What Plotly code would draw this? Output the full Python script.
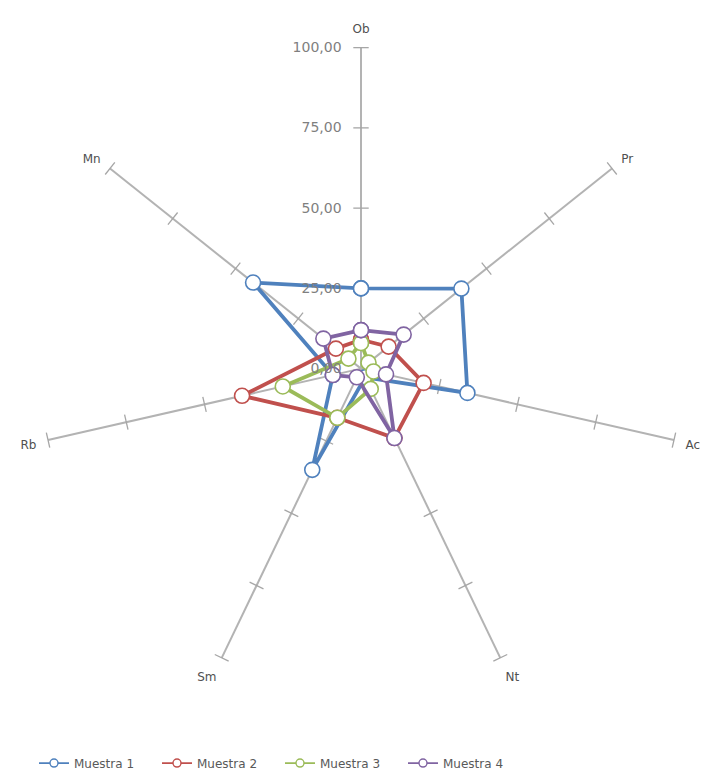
import plotly.graph_objects as go

# Axis categories, clockwise from the top
categories = ["Ob", "Pr", "Ac", "Nt", "Sm", "Rb", "Mn"]

# Sample values per category
muestra_1 = [25, 40, 34, 3, 35, 9, 43]
muestra_2 = [9, 11, 20, 24, 17, 38, 10]
muestra_3 = [8, 3, 4, 7, 17, 25, 5]
muestra_4 = [12, 17, 8, 24, 3, 9, 15]

series_names = ["Muestra 1", "Muestra 2", "Muestra 3", "Muestra 4"]
series_values = [muestra_1, muestra_2, muestra_3, muestra_4]
series_colors = ["#4F81BD", "#C0504D", "#9BBB59", "#8064A2"]

radial_ticks = [0, 25, 50, 75, 100]

W, H = 704, 778
cx, cy, R = 361, 371.5, 323.5
FONT = "DejaVu Sans, Liberation Sans, sans-serif"

fig = go.Figure()

# Small perpendicular tick marks along every spoke
tick_r, tick_theta, tick_angle = [], [], []
n = len(categories)
for i, cat in enumerate(categories):
    for v in radial_ticks[1:]:
        tick_r.append(v)
        tick_theta.append(cat)
        tick_angle.append(i * 360.0 / n)
fig.add_trace(go.Scatterpolar(
    r=tick_r, theta=tick_theta, mode="markers",
    marker=dict(symbol="line-ew", size=11, angle=tick_angle,
                line=dict(color="#a6a6a6", width=1.3)),
    showlegend=False, hoverinfo="skip",
))

# Data series, each closed back to its first category
for name, vals, col in zip(series_names, series_values, series_colors):
    fig.add_trace(go.Scatterpolar(
        r=vals + [vals[0]], theta=categories + [categories[0]],
        mode="lines+markers", name=name, showlegend=False,
        line=dict(color=col, width=3.8),
        marker=dict(symbol="circle", size=15, color="white",
                    line=dict(color=col, width=1.6)),
    ))

# Legend entries with a slimmer line and smaller marker
for name, col in zip(series_names, series_colors):
    fig.add_trace(go.Scatterpolar(
        r=[None], theta=[categories[0]],
        mode="lines+markers", name=name,
        line=dict(color=col, width=1.8),
        marker=dict(symbol="circle", size=8, color="white",
                    line=dict(color=col, width=1.4)),
    ))

fig.update_layout(
    width=W, height=H,
    margin=dict(l=0, r=0, t=0, b=0),
    paper_bgcolor="white",
    separators=",.",
    font=dict(family=FONT, color="#595959"),
    polar=dict(
        domain=dict(x=[(cx - R) / W, (cx + R) / W],
                    y=[1 - (cy + R) / H, 1 - (cy - R) / H]),
        bgcolor="white",
        angularaxis=dict(
            direction="clockwise", rotation=90,
            showline=False, showgrid=True,
            gridcolor="#b3b3b3", gridwidth=1.5,
            ticks="outside", ticklen=9, tickcolor="rgba(0,0,0,0)",
            tickfont=dict(size=12, color="#505050"),
        ),
        radialaxis=dict(
            range=[0, 100], angle=90, side="counterclockwise",
            tickvals=radial_ticks, tickformat=".2f",
            showgrid=False, showline=False,
            ticks="outside", ticklen=14, tickcolor="rgba(0,0,0,0)",
            tickfont=dict(size=14, color="#7f7f7f"),
            tickangle=90,
        ),
    ),
    legend=dict(
        orientation="h", x=34 / W, xanchor="left",
        y=1 - 769 / H, yanchor="middle",
        font=dict(family=FONT, size=12, color="#595959"),
        itemwidth=30, entrywidth=78, entrywidthmode="pixels",
    ),
)

fig.write_html("out.html")
